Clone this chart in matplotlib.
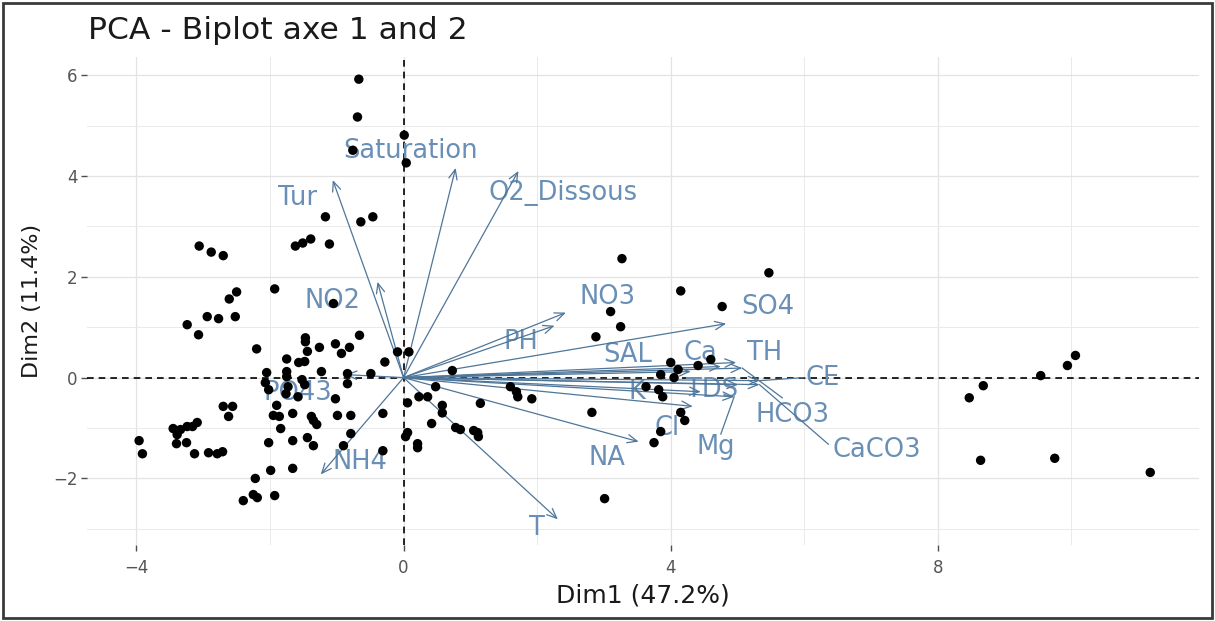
import matplotlib
matplotlib.use("Agg")
import matplotlib.pyplot as plt
from matplotlib.patches import Rectangle

plt.rcParams["font.family"] = ["DejaVu Sans"]

# Individuals: coordinates on the first two principal components
ind_dim1 = [
    -0.67, -0.69, 0.01, -0.76, 0.04,
    -1.17, -0.64, -0.46, -1.11,
    -1.62, -1.51, -1.39,
    -3.06, -2.88, -2.70,
    -1.93, -2.61, -2.50, -1.05,
    -2.94, -2.77, -2.52,
    -3.24, -3.07,
    -1.47, -1.47, -1.02, -0.81, -0.66, -1.26, -2.20, -1.44, -0.93,
    -1.75, -1.57, -1.48, -0.28,
    -2.05, -1.75, -1.23, -0.84, -0.49,
    -2.07, -1.75, -1.52, -0.84,
    -1.73, -1.48,
    -2.02, -1.76, -1.58, -1.02,
    -0.09, 0.08,
    0.73, 0.48, 0.23, 0.36, 0.06, 0.58, 0.58, 1.15,
    -2.70, -2.56, -2.62,
    -1.90, -1.95, -1.86, -1.66,
    -1.38, -1.35, -1.30,
    -0.99, -0.79, -0.31,
    -1.84, 0.42, 0.78, 0.85, 1.05, 1.11, 1.12,
    0.06, 0.03,
    -3.45, -3.34, -3.24, -3.16, -3.09,
    -3.39, -3.40, -3.25,
    -3.96, -3.91, -3.13,
    -2.92, -2.79, -2.71,
    -2.02, -1.66, -1.44, -1.35, -0.90, -0.79, -0.31,
    0.21, 0.21,
    -1.99, -1.66, -2.22,
    -2.40, -2.25, -2.19, -1.93,
    3.10, 3.25, 2.88, 4.77,
    3.27, 5.47, 4.15,
    4.00, 4.11, 3.85, 4.05, 4.41, 4.60,
    3.63, 3.82, 3.88,
    1.60, 1.69, 1.71, 1.92,
    2.82, 4.15, 4.21, 3.85, 3.75, 3.01,
    10.06, 9.94, 9.54, 8.68, 8.47, 8.64, 9.75, 11.18,
]
ind_dim2 = [
    5.92, 5.17, 4.81, 4.51, 4.26,
    3.19, 3.09, 3.19, 2.65,
    2.61, 2.67, 2.75,
    2.61, 2.49, 2.42,
    1.76, 1.56, 1.70, 1.47,
    1.21, 1.17, 1.21,
    1.05, 0.85,
    0.79, 0.71, 0.67, 0.60, 0.84, 0.60, 0.57, 0.52, 0.48,
    0.37, 0.30, 0.32, 0.31,
    0.10, 0.12, 0.12, 0.08, 0.08,
    -0.10, 0.02, -0.04, -0.12,
    -0.18, -0.14,
    -0.24, -0.32, -0.38, -0.42,
    0.51, 0.51,
    0.14, -0.18, -0.38, -0.38, -0.50, -0.55, -0.70, -0.51,
    -0.57, -0.57, -0.77,
    -0.55, -0.75, -0.77, -0.71,
    -0.77, -0.85, -0.93,
    -0.75, -0.75, -0.71,
    -1.01, -0.91, -0.99, -1.03, -1.05, -1.09, -1.17,
    -1.09, -1.17,
    -1.01, -1.03, -0.97, -0.97, -0.89,
    -1.13, -1.31, -1.29,
    -1.25, -1.51, -1.51,
    -1.49, -1.51, -1.47,
    -1.29, -1.25, -1.19, -1.35, -1.35, -1.11, -1.45,
    -1.31, -1.39,
    -1.84, -1.80, -2.00,
    -2.44, -2.32, -2.38, -2.34,
    1.31, 1.01, 0.81, 1.41,
    2.36, 2.08, 1.72,
    0.30, 0.16, 0.06, 0.00, 0.24, 0.36,
    -0.18, -0.24, -0.38,
    -0.18, -0.28, -0.38, -0.42,
    -0.69, -0.69, -0.85, -1.07, -1.29, -2.40,
    0.44, 0.24, 0.04, -0.16, -0.40, -1.64, -1.60, -1.88,
]

# Variables: loadings (arrow tips) on the first two components
variables = ["Saturation", "Tur", "O2_Dissous", "NO2", "NO3", "PH", "SO4",
             "SAL", "Ca", "TH", "CE", "K", "TDS", "HCO3", "CaCO3", "Mg",
             "Cl", "NA", "T", "NH4", "PO43"]
var_dim1 = [0.78, -1.06, 1.72, -0.39, 2.43, 2.26, 4.83,
            4.30, 4.75, 4.98, 5.33, 4.45, 5.01, 5.07, 5.33, 4.95,
            4.33, 3.52, 2.31, -1.24, -0.87]
var_dim2 = [4.16, 3.92, 4.10, 1.90, 1.29, 1.03, 1.07,
            0.12, 0.22, 0.30, -0.06, -0.28, -0.14, 0.19, -0.14, -0.38,
            -0.57, -1.27, -2.81, -1.92, 0.06]

x_ticks = [-4, 0, 4, 8]
y_ticks = [-2, 0, 2, 4, 6]
title = "PCA - Biplot axe 1 and 2"
x_label = "Dim1 (47.2%)"
y_label = "Dim2 (11.4%)"

# Label placement (repelled away from the arrow tips)
label_pos = {
    "Saturation": (0.10, 4.50), "Tur": (-1.58, 3.57), "O2_Dissous": (2.39, 3.66),
    "NO2": (-1.07, 1.52), "NO3": (3.05, 1.60), "PH": (1.75, 0.71),
    "SO4": (5.46, 1.40), "SAL": (3.36, 0.45), "Ca": (4.44, 0.49),
    "TH": (5.41, 0.49), "CE": (6.27, 0.00), "K": (3.50, -0.28),
    "TDS": (4.62, -0.25), "HCO3": (5.83, -0.74), "CaCO3": (7.08, -1.44),
    "Mg": (4.67, -1.37), "Cl": (3.95, -1.00), "NA": (3.05, -1.59),
    "T": (2.00, -2.98), "NH4": (-0.65, -1.67), "PO43": (-1.59, -0.30),
}
# Connector segments from the label edge back to the arrow tip
connector_end = {
    "Mg": (4.75, -1.12), "CaCO3": (6.36, -1.32),
    "CE": (5.99, 0.00), "HCO3": (5.67, -0.40),
}

W, H, DPI = 1215, 621, 100
fig = plt.figure(figsize=(W / DPI, H / DPI), dpi=DPI)
fig.patch.set_facecolor("white")

left, right, top, bottom = 87, 1199, 57, 545
ax = fig.add_axes([left / W, 1 - bottom / H, (right - left) / W, (bottom - top) / H])
ax.set_xlim(-4.74, 11.91)
ax.set_ylim(-3.32, 6.36)

for s in ax.spines.values():
    s.set_visible(False)

ax.set_xticks(x_ticks)
ax.set_yticks(y_ticks)
ax.set_xticks([-2, 2, 6, 10], minor=True)
ax.set_yticks([-3, -1, 1, 3, 5], minor=True)
ax.grid(True, which="major", color="#e3e3e3", lw=0.9, zorder=0)
ax.grid(True, which="minor", color="#eaeaea", lw=0.7, zorder=0)
ax.set_axisbelow(True)
ax.tick_params(axis="both", which="major", length=4, width=1.0, color="#4d4d4d",
               labelcolor="#555555", labelsize=12)
ax.tick_params(axis="x", which="major", pad=6)
ax.tick_params(axis="y", which="major", pad=3)
ax.tick_params(which="minor", length=0)

ax.axhline(0, color="black", lw=1.2, ls=(0, (4, 3)), zorder=1.5)
ax.axvline(0, color="black", lw=1.2, ls=(0, (4, 3)), zorder=1.5)

arrow_col = "#4f7699"
label_col = "#6a8fb6"

for name, vx, vy in zip(variables, var_dim1, var_dim2):
    ax.annotate("", xy=(vx, vy), xytext=(0, 0),
                arrowprops=dict(arrowstyle="->,head_length=0.7,head_width=0.3",
                                color=arrow_col, lw=0.9, shrinkA=0, shrinkB=0,
                                mutation_scale=10),
                zorder=3)
    lx, ly = label_pos[name]
    ax.text(lx, ly, name, color=label_col, fontsize=18.5, ha="center", va="center",
            zorder=2.5)
    if name in connector_end:
        ex, ey = connector_end[name]
        ax.plot([vx, ex], [vy, ey], color=arrow_col, lw=0.9, zorder=2.6)

ax.scatter(ind_dim1, ind_dim2, s=46, color="black", edgecolors="none", zorder=4)

fig.text(88 / W, 1 - 39 / H, title, fontsize=22.6, color="#1a1a1a",
         ha="left", va="baseline")
fig.text((left + right) / 2 / W, 1 - 602 / H, x_label, fontsize=18,
         color="#1a1a1a", ha="center", va="baseline")
fig.text(32 / W, 1 - (top + bottom) / 2 / H, y_label, fontsize=16,
         color="#1a1a1a", ha="center", va="center", rotation=90)

fig.patches.append(Rectangle((3 / W, 3 / H), (W - 6) / W, (H - 6) / H,
                             transform=fig.transFigure, fill=False,
                             edgecolor="#3a3a3a", lw=2.0))

fig.savefig("out.png", dpi=DPI, facecolor="white")
